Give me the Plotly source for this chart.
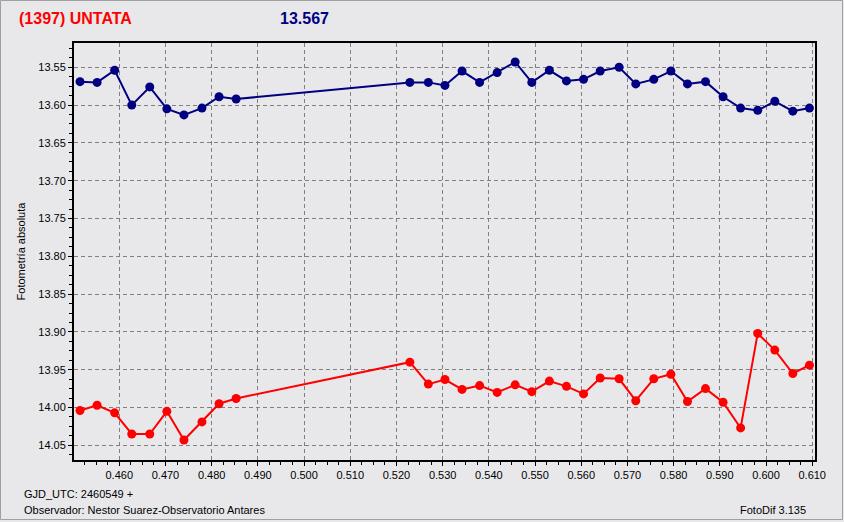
import plotly.graph_objects as go

# ---- data ----
x_blue = [0.4515, 0.4552, 0.4590, 0.4627, 0.4666, 0.4703, 0.4740, 0.4779, 0.4816, 0.4853,
          0.5229, 0.5269, 0.5305, 0.5342, 0.5380, 0.5418, 0.5457, 0.5493, 0.5531, 0.5568,
          0.5605, 0.5641, 0.5682, 0.5718, 0.5757, 0.5794, 0.5830, 0.5869, 0.5907, 0.5945,
          0.5982, 0.6019, 0.6058, 0.6094]
y_blue = [13.569, 13.570, 13.554, 13.600, 13.576, 13.605, 13.613, 13.604, 13.589, 13.592,
          13.570, 13.570, 13.574, 13.555, 13.570, 13.557, 13.543, 13.570, 13.554, 13.568,
          13.566, 13.555, 13.550, 13.572, 13.566, 13.555, 13.572, 13.569, 13.589, 13.604,
          13.607, 13.595, 13.608, 13.604]

x_red = x_blue
y_red = [14.004, 13.997, 14.007, 14.035, 14.035, 14.005, 14.043, 14.019, 13.995, 13.988,
         13.940, 13.969, 13.963, 13.976, 13.971, 13.980, 13.970, 13.979, 13.965, 13.972,
         13.982, 13.961, 13.962, 13.991, 13.962, 13.956, 13.992, 13.975, 13.993, 14.027,
         13.902, 13.924, 13.955, 13.944]

x_ticks = [0.46 + 0.01 * i for i in range(16)]
y_ticks = [13.55 + 0.05 * i for i in range(11)]

title_name = "(1397) UNTATA"
title_mag = "13.567"
y_label = "Fotometría absoluta"
foot_1 = "GJD_UTC: 2460549 +"
foot_2 = "Observador: Nestor Suarez-Observatorio Antares"
foot_3 = "FotoDif 3.135"

# ---- layout geometry ----
W, H = 844, 522
L, R, T, B = 74, 29, 43, 62
PW, PH = W - L - R, H - T - B

def px(xp):
    return (xp - L) / PW

def py(yp):
    return (H - B - yp) / PH

BG = "#e8e8eb"
FONT = "Liberation Sans"

fig = go.Figure()
fig.add_trace(go.Scatter(
    x=x_blue, y=y_blue, mode="lines+markers",
    line=dict(color="#000080", width=2),
    marker=dict(color="#000080", size=9, symbol="circle"),
    showlegend=False, hoverinfo="x+y"))
fig.add_trace(go.Scatter(
    x=x_red, y=y_red, mode="lines+markers",
    line=dict(color="#ff0000", width=2),
    marker=dict(color="#ff0000", size=9, symbol="circle"),
    showlegend=False, hoverinfo="x+y"))

axis_common = dict(
    showline=True, linecolor="black", linewidth=2, mirror=True,
    showgrid=True, gridcolor="#808080", gridwidth=1, griddash="4px,3px",
    zeroline=False, ticks="outside", ticklen=4, tickcolor="black", tickwidth=1,
    tickfont=dict(family=FONT, size=11, color="black"),
    automargin=False,
)

fig.update_xaxes(
    range=[0.4502, 0.6106], tickvals=x_ticks,
    ticktext=[f"{v:.3f}" for v in x_ticks],
    minor=dict(dtick=0.0025, tick0=0.46, ticks="outside", ticklen=3,
               tickcolor="black", showgrid=False),
    **axis_common)
fig.update_yaxes(
    range=[14.0694, 13.5179], tickvals=y_ticks,
    ticktext=[f"{v:.2f}" for v in y_ticks],
    minor=dict(dtick=0.0125, tick0=13.55, ticks="outside", ticklen=3,
               tickcolor="black", showgrid=False),
    title=dict(text=y_label, font=dict(family=FONT, size=11, color="black"), standoff=10),
    **axis_common)

annotations = [
    dict(text=f"<b>{title_name}</b>", x=px(17), y=py(19), xanchor="left", yanchor="middle",
         font=dict(family=FONT, size=16, color="#ff0000")),
    dict(text=f"<b>{title_mag}</b>", x=px(278), y=py(19), xanchor="left", yanchor="middle",
         font=dict(family=FONT, size=16, color="#000080")),
    dict(text=foot_1, x=px(22), y=py(494), xanchor="left", yanchor="middle",
         font=dict(family=FONT, size=11, color="black")),
    dict(text=foot_2, x=px(22), y=py(510), xanchor="left", yanchor="middle",
         font=dict(family=FONT, size=11, color="black")),
    dict(text=foot_3, x=px(808), y=py(510), xanchor="right", yanchor="middle",
         font=dict(family=FONT, size=11, color="black")),
]
for a in annotations:
    a.update(xref="paper", yref="paper", showarrow=False)

fig.update_layout(
    width=W, height=H,
    margin=dict(l=L, r=R, t=T, b=B),
    paper_bgcolor=BG, plot_bgcolor=BG,
    annotations=annotations,
    shapes=[dict(type="rect", xref="paper", yref="paper",
                 x0=px(0.5), x1=px(W - 1.5), y0=py(0.5), y1=py(H - 2.5),
                 line=dict(color="#a0a0a0", width=1), layer="below")],
    font=dict(family=FONT),
)

fig.write_html("out.html", config={"displayModeBar": False},
               post_script="document.body.style.margin='0';document.body.style.padding='0';")
